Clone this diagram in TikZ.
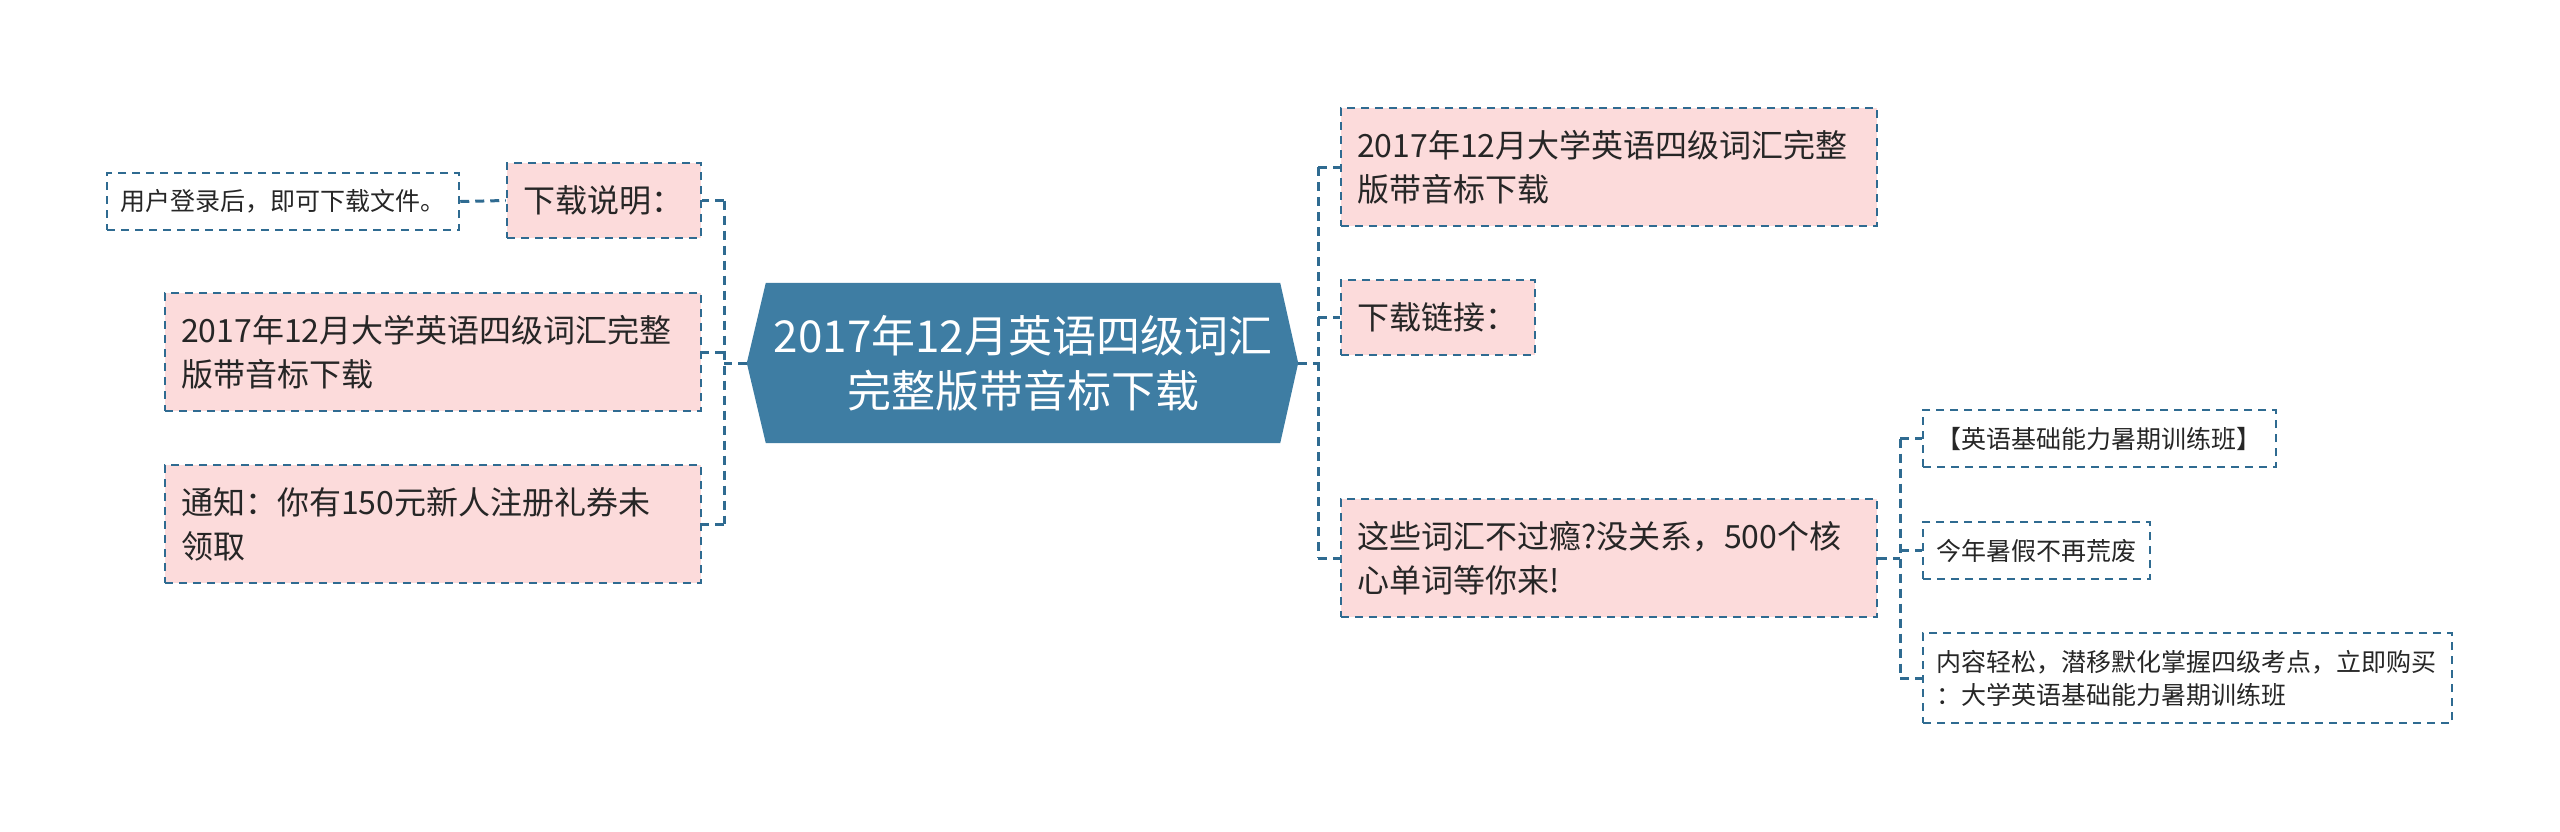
\documentclass[tikz,border=0pt]{standalone}
\usepackage{fontspec}
\setmainfont{Noto Sans CJK SC}
\usetikzlibrary{calc,backgrounds}
\definecolor{hexblue}{HTML}{3E7DA3}
\definecolor{pinkfill}{HTML}{FCDBDB}
\definecolor{edgeblue}{HTML}{2F6B91}
\definecolor{txt}{HTML}{262626}
\begin{document}
\begin{tikzpicture}[x=1pt,y=-1pt,
  boxbase/.style={draw=edgeblue, line width=2.5pt, dash pattern=on 8pt off 6pt, text=txt, align=left, inner ysep=0pt, anchor=center},
  lvtwo/.style={boxbase, fill=pinkfill, font=\fontsize{32}{44}\selectfont, inner xsep=16pt},
  lvthree/.style={boxbase, fill=white, font=\fontsize{25}{33}\selectfont, inner xsep=13pt},
  hexnode/.style={text=white, align=center, font=\fontsize{44}{55}\selectfont, inner sep=0pt, minimum width=514pt, minimum height=160pt},
  conn/.style={draw=edgeblue, line width=3pt, dash pattern=on 9pt off 6pt}
]
\useasboundingbox (0,0) rectangle (2560,831);
\begin{scope}[on background layer]
\fill[white] (0,0) rectangle (2560,831);
\end{scope}

% central node
\node[hexnode] (c) at (1023,363) {2017年12月英语四级词汇\\完整版带音标下载};
\coordinate (cl) at ($(c.west)+(-19,0)$);
\coordinate (cr) at ($(c.east)+(18,0)$);
\begin{scope}[on background layer]
\fill[hexblue] (c.north west) -- (c.north east) -- (cr) -- (c.south east) -- (c.south west) -- (cl) -- cycle;
\end{scope}

% left side
\node[lvtwo, text width=162pt, minimum height=75pt] (l1) at (604,200.5) {下载说明：};
\node[lvthree, text width=326pt, minimum height=57pt] (u) at (283,201.5) {用户登录后，即可下载文件。};
\node[lvtwo, text width=504pt, minimum height=118pt] (l2) at (433,352) {2017年12月大学英语四级词汇完整\\版带音标下载};
\node[lvtwo, text width=504pt, minimum height=118pt] (l3) at (433,524) {通知：你有150元新人注册礼券未\\领取};

% right side
\node[lvtwo, text width=504pt, minimum height=118pt] (r1) at (1609,167) {2017年12月大学英语四级词汇完整\\版带音标下载};
\node[lvtwo, text width=162pt, minimum height=75pt] (r2) at (1438,317.5) {下载链接：};
\node[lvtwo, text width=504pt, minimum height=118pt] (r3) at (1609,558) {这些词汇不过瘾?没关系，500个核\\心单词等你来!};

\node[lvthree, text width=327pt, minimum height=57pt] (s1) at (2099.5,438.5) {【英语基础能力暑期训练班】};
\node[lvthree, text width=201pt, minimum height=57pt] (s2) at (2036.5,550.5) {今年暑假不再荒废};
\node[lvthree, text width=503pt, minimum height=90pt] (s3) at (2187.5,678) {内容轻松，潜移默化掌握四级考点，立即购买\\：大学英语基础能力暑期训练班};

% connectors
\coordinate (lj) at (724,363);
\coordinate (rj) at (1318,363);
\coordinate (bj) at (1900,558);

\draw[conn] (cl) -- (lj);
\draw[conn] (lj |- l1.east) -- (lj |- l3.east);
\draw[conn] (lj |- l1.east) -- (l1.east);
\draw[conn] (lj |- l2.east) -- (l2.east);
\draw[conn] (lj |- l3.east) -- (l3.east);
\draw[conn] (u.east) -- (l1.west);

\draw[conn] (cr) -- (rj);
\draw[conn] (rj |- r1.west) -- (rj |- r3.west);
\draw[conn] (rj |- r1.west) -- (r1.west);
\draw[conn] (rj |- r2.west) -- (r2.west);
\draw[conn] (rj |- r3.west) -- (r3.west);

\draw[conn] (r3.east) -- (bj);
\draw[conn] (bj |- s1.west) -- (bj |- s3.west);
\draw[conn] (bj |- s1.west) -- (s1.west);
\draw[conn] (bj |- s2.west) -- (s2.west);
\draw[conn] (bj |- s3.west) -- (s3.west);
\end{tikzpicture}
\end{document}
